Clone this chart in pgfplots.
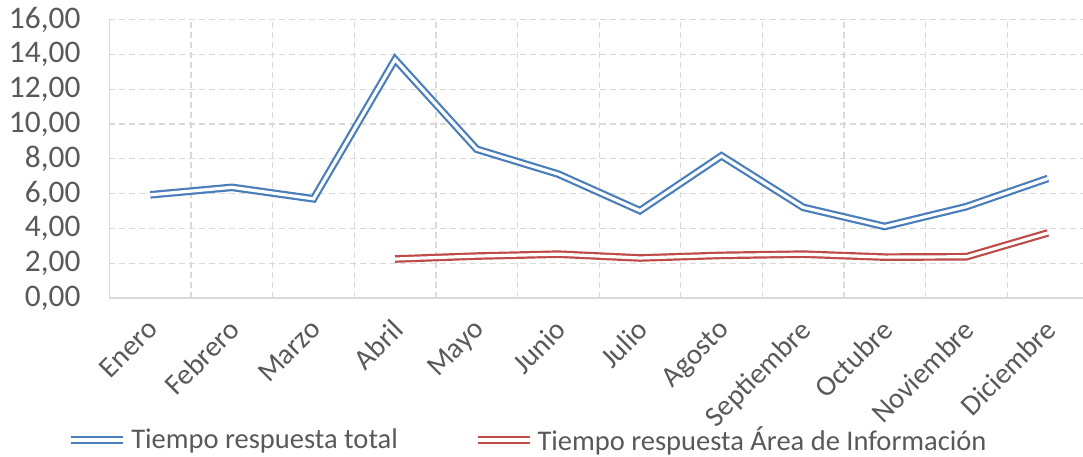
\documentclass[border=0pt]{standalone}
\usepackage{pgfplots}
\pgfplotsset{compat=1.18}
\usepackage{fontspec}
\setmainfont{Carlito}
\definecolor{bluel}{HTML}{4A7EBB}
\definecolor{redl}{HTML}{BE4B48}
\definecolor{txt}{HTML}{595959}
\definecolor{grd}{HTML}{D9D9D9}
\begin{document}
\begin{tikzpicture}
\begin{axis}[
  at={(0,0)}, anchor=south west,
  scale only axis,
  width=486.75pt, height=139.2pt,
  xmin=-0.5, xmax=11.43,
  ymin=0, ymax=16,
  ytick={0,2,...,16},
  xtick={0,...,11},
  xticklabels={Enero,Febrero,Marzo,Abril,Mayo,Junio,Julio,Agosto,Septiembre,Octubre,Noviembre,Diciembre},
  minor xtick={0.5,1.5,...,10.5},
  xminorgrids=true, ymajorgrids=true,
  grid style={grd, densely dashed, line width=0.6pt},
  minor grid style={grd, densely dashed, line width=0.6pt},
  axis x line*=bottom, axis y line*=left,
  axis line style={grd, line width=0.7pt, -},
  major tick length=0pt, minor tick length=0pt,
  tick style={draw=none},
  tick label style={text=txt},
  yticklabel style={xshift=-11pt, font=\fontsize{15.7}{18}\selectfont},
  xticklabel style={xshift=-2.3pt, yshift=-8.2pt, rotate=45, anchor=north east, inner sep=1pt, font=\fontsize{14.5}{17}\selectfont},
  /pgf/number format/.cd, fixed, fixed zerofill, precision=2, use comma, assume math mode=true,
  /pgfplots/.cd,
  legend columns=2,
  legend style={at={(0.431,-0.51)}, anchor=center, draw=none, fill=none,
    font=\fontsize{14.25}{17}\selectfont, text=txt,
    /tikz/every even column/.append style={column sep=36pt}},
  legend image code/.code={\draw[#1] (0pt,0pt) -- (26pt,0pt);},
]
\addplot[bluel, line width=1.1pt, double=white, double distance=1.6pt] coordinates {
(0,5.93) (1,6.36) (2,5.70) (3,13.71) (4,8.55) (5,7.12) (6,5.02) (7,8.17) (8,5.21) (9,4.11) (10,5.25) (11,6.87)};
\addlegendentry{Tiempo respuesta total}
\addplot[redl, line width=1.1pt, double=white, double distance=1.6pt] coordinates {
(3,2.24) (4,2.41) (5,2.52) (6,2.30) (7,2.45) (8,2.52) (9,2.35) (10,2.37) (11,3.74)};
\addlegendentry{Tiempo respuesta Área de Información}
\end{axis}
\pgfresetboundingbox
\useasboundingbox (-54.75pt,-79pt) rectangle (486.75pt,149pt);
\end{tikzpicture}
\end{document}
